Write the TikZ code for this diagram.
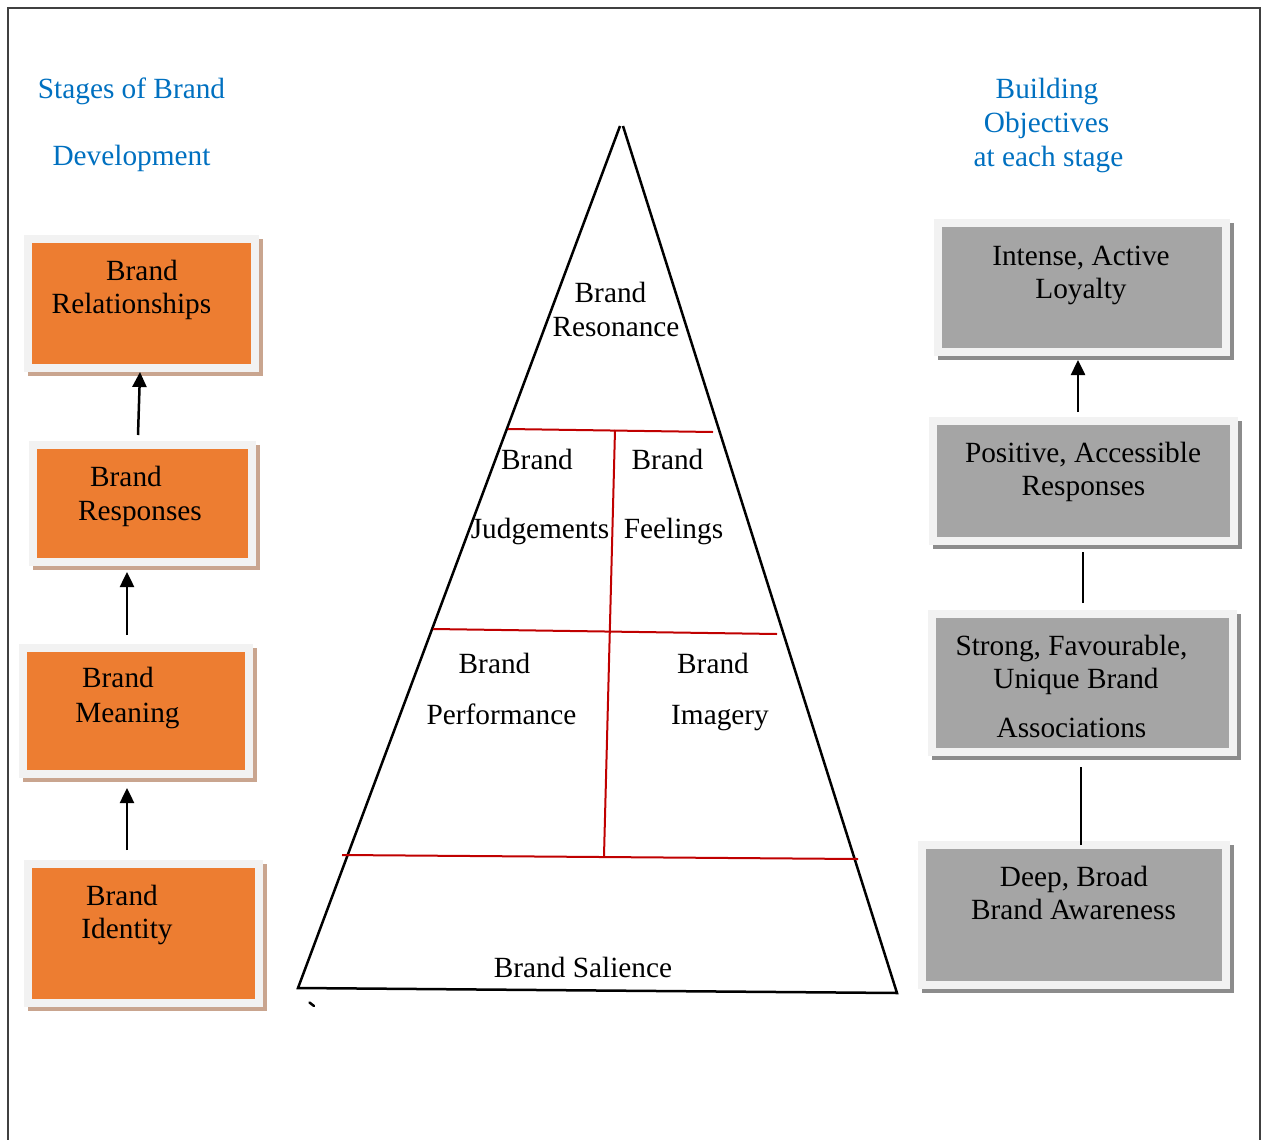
\documentclass[tikz,border=0pt]{standalone}
\usepackage{fontspec}
\setmainfont{Liberation Serif}
\usetikzlibrary{arrows.meta}
\definecolor{boxorange}{HTML}{ED7D31}
\definecolor{boxgray}{HTML}{A5A5A5}
\definecolor{rim}{HTML}{F2F2F2}
\definecolor{orangeshade}{HTML}{C9A58F}
\definecolor{grayshade}{HTML}{8C8C8C}
\definecolor{titleblue}{HTML}{0070C0}
\definecolor{splitred}{HTML}{C00000}
\definecolor{framegray}{HTML}{404040}

\begin{document}
\begin{tikzpicture}[x=1pt,y=-1pt,
  panel/.style={rectangle, inner sep=0pt, outer sep=0pt, draw=rim, line width=8pt},
  stagebox/.style={panel, fill=boxorange,
    preaction={fill=orangeshade, draw=orangeshade, line width=8pt,
      transform canvas={shift={(4pt,-4pt)}}}},
  goalbox/.style={panel, fill=boxgray,
    preaction={fill=grayshade, draw=grayshade, line width=8pt,
      transform canvas={shift={(4pt,-4pt)}}}},
  lbl/.style={font=\fontsize{29.3}{34}\selectfont, inner sep=0pt, anchor=base},
  heading/.style={lbl, text=titleblue},
  arr/.style={-{Triangle[width=14pt,length=15pt]}, line width=2.5pt},
  link/.style={line width=2.5pt},
  edge/.style={line width=2.5pt},
  split/.style={splitred, line width=2pt},
]
\useasboundingbox (0,0) rectangle (1261,1140);

% page frame, open at the bottom
\draw[framegray, line width=2pt] (8,1140) -- (8,8) -- (1260,8) -- (1260,1140);

% column headings
\node[heading] (hl1) at (131.5,98) {Stages of Brand};
\node[heading] (hl2) at (131.5,165) {Development};
\node[heading] (hr1) at (1047,98) {Building};
\node[heading] (hr2) at (1046.5,132) {Objectives};
\node[heading] (hr3) at (1048.5,166) {at each stage};

% stages of brand development
\node[stagebox, minimum width=227pt, minimum height=129pt] (rel) at (141.5,303.5) {};
\node[stagebox, minimum width=219pt, minimum height=117pt] (resp) at (142.5,503.5) {};
\node[stagebox, minimum width=226pt, minimum height=126pt] (mean) at (136,711) {};
\node[stagebox, minimum width=231pt, minimum height=139pt] (ident) at (143.5,933.5) {};

\node[lbl] (rel-a) at (142,280) {Brand};
\node[lbl] (rel-b) at (131.5,313) {Relationships};
\node[lbl] (resp-a) at (126,486) {Brand};
\node[lbl] (resp-b) at (140,520) {Responses};
\node[lbl] (mean-a) at (118,687) {Brand};
\node[lbl] (mean-b) at (127.5,722) {Meaning};
\node[lbl] (ident-a) at (122,905) {Brand};
\node[lbl] (ident-b) at (127,938) {Identity};

% building objectives
\node[goalbox, minimum width=288pt, minimum height=129pt] (loy) at (1082,287.5) {};
\node[goalbox, minimum width=301pt, minimum height=120pt] (pos) at (1083.5,481) {};
\node[goalbox, minimum width=301pt, minimum height=138pt] (assoc) at (1082.5,683) {};
\node[goalbox, minimum width=304pt, minimum height=140pt] (aware) at (1074,915) {};

\node[lbl] (loy-a) at (1081,265) {Intense, Active};
\node[lbl] (loy-b) at (1081,298) {Loyalty};
\node[lbl] (pos-a) at (1083,462) {Positive, Accessible};
\node[lbl] (pos-b) at (1083.5,495) {Responses};
\node[lbl] (assoc-a) at (1071.5,655) {Strong, Favourable,};
\node[lbl] (assoc-b) at (1076,688) {Unique Brand};
\node[lbl] (assoc-c) at (1071.5,737) {Associations};
\node[lbl] (aware-a) at (1074,886) {Deep, Broad};
\node[lbl] (aware-b) at (1073.5,919) {Brand Awareness};

% connectors between the stages
\draw[arr] ([xshift=-4.5pt,yshift=10pt]resp.north) -- ([xshift=-1.5pt,yshift=-4pt]rel.south);
\draw[arr] ([xshift=-9pt,yshift=13pt]mean.north) -- ([xshift=-15.5pt,yshift=-10pt]resp.south);
\draw[arr] ([xshift=-16.5pt,yshift=14pt]ident.north) -- ([xshift=-9pt,yshift=-14pt]mean.south);

\draw[arr] ([xshift=-5.5pt,yshift=9pt]pos.north) -- ([xshift=-4pt,yshift=-8pt]loy.south);
\draw[link] ([xshift=0.5pt,yshift=11pt]assoc.north) -- ([xshift=-0.5pt,yshift=-11pt]pos.south);
\draw[link] ([xshift=7pt]aware.north) -- ([xshift=-1.5pt,yshift=-15pt]assoc.south);

% the pyramid
\coordinate (apexL) at (620,126);
\coordinate (apexR) at (623,126);
\coordinate (baseL) at (298,988);
\coordinate (baseR) at (897,993);
\draw[edge] (apexL) -- (baseL) -- (baseR) -- (apexR);

% dividing lines of the pyramid
\draw[split] (508,429) -- (713,432);
\draw[split] (433,629) -- (777,634);
\draw[split] (342,855) -- (858,859);
\draw[split] (615,430) -- (604,856);

% small stray tick under the base corner
\draw[line width=2.5pt, line cap=round] (309.5,1002.5) -- (314,1006);

% pyramid labels
\node[lbl] (res-a) at (610.5,302) {Brand};
\node[lbl] (res-b) at (616,336) {Resonance};
\node[lbl] (jud-a) at (537,469) {Brand};
\node[lbl] (jud-b) at (540,538) {Judgements};
\node[lbl] (feel-a) at (667.5,469) {Brand};
\node[lbl] (feel-b) at (673.5,538) {Feelings};
\node[lbl] (perf-a) at (494.5,673) {Brand};
\node[lbl] (perf-b) at (501.5,724) {Performance};
\node[lbl] (img-a) at (713,673) {Brand};
\node[lbl] (img-b) at (720,724) {Imagery};
\node[lbl] (sal) at (583,977) {Brand Salience};
\end{tikzpicture}
\end{document}
